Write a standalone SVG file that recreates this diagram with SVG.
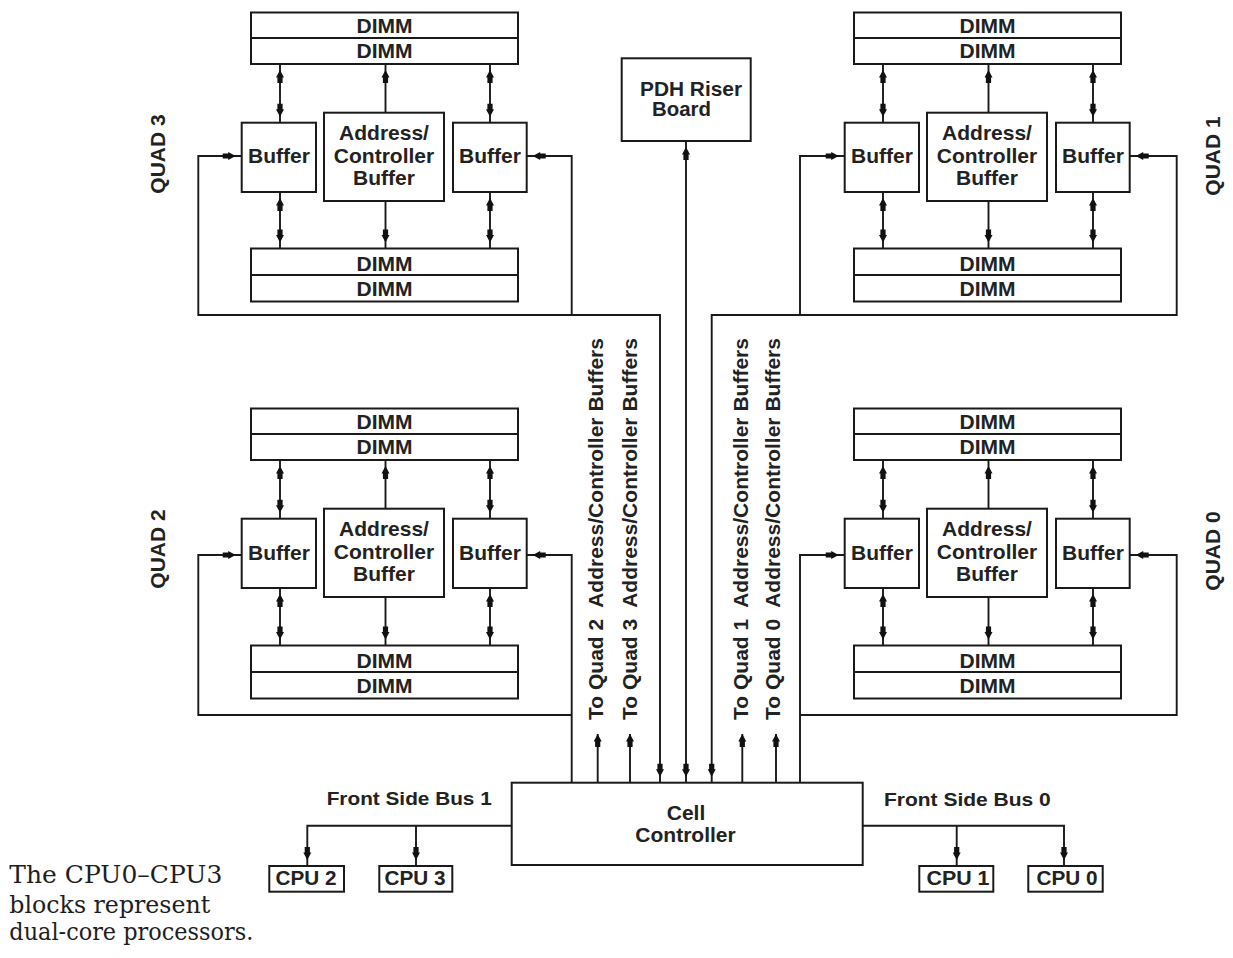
<svg xmlns="http://www.w3.org/2000/svg" width="1233" height="958" viewBox="0 0 1233 958">
<style>
.box{fill:#fff;stroke:#1a1a1a;stroke-width:2}
.dv{stroke:#1a1a1a;stroke-width:2}
.t{font-family:"Liberation Sans",Arial,sans-serif;font-weight:bold;font-size:21px;fill:#222;text-anchor:middle}
.s{text-anchor:start}
.w{fill:none;stroke:#1a1a1a;stroke-width:1.9}
.cap{font-family:"DejaVu Serif","Liberation Serif",serif;font-size:23.5px;fill:#1e1e1e}
</style>
<defs>
<marker id="ah" viewBox="-14 -5 15 10" refX="6" refY="0" markerWidth="15" markerHeight="10" markerUnits="userSpaceOnUse" orient="auto-start-reverse" overflow="visible">
<path d="M0,0 L-7.5,-4 L-7.5,-2.6 L-13,-2.6 L-13,2.6 L-7.5,2.6 L-7.5,4 Z" fill="#111"/>
</marker>
<marker id="ah0" viewBox="-14 -5 15 10" refX="0" refY="0" markerWidth="15" markerHeight="10" markerUnits="userSpaceOnUse" orient="auto-start-reverse" overflow="visible">
<path d="M0,0 L-7.5,-4 L-7.5,-2.6 L-13,-2.6 L-13,2.6 L-7.5,2.6 L-7.5,4 Z" fill="#111"/>
</marker>
</defs>
<rect width="1233" height="958" fill="#fff"/>

<!-- QUAD 3 -->
<g id="quad3">
<text class="t" transform="translate(165,154) rotate(-90)">QUAD 3</text>
<g transform="translate(0,0)">
<g id="q3-dimm-top"><rect class="box" x="251" y="12.5" width="267" height="51.5"/><line class="dv" x1="251" y1="38" x2="518" y2="38"/><text class="t" x="384.5" y="32.5">DIMM</text><text class="t" x="384.5" y="57.5">DIMM</text></g>
<g id="q3-buf-l"><rect class="box" x="241.7" y="122.7" width="74.3" height="69.3"/><text class="t" x="279" y="163">Buffer</text></g>
<g id="q3-addr"><rect class="box" x="324" y="112.7" width="120" height="88.3"/><text class="t" x="384" y="139.5">Address/</text><text class="t" x="384" y="162.5">Controller</text><text class="t" x="384" y="184.5">Buffer</text></g>
<g id="q3-buf-r"><rect class="box" x="453" y="122.7" width="73.7" height="69.3"/><text class="t" x="490" y="163">Buffer</text></g>
<g id="q3-dimm-bot"><rect class="box" x="251" y="248.5" width="267" height="53"/><line class="dv" x1="251" y1="275" x2="518" y2="275"/><text class="t" x="384.5" y="270.5">DIMM</text><text class="t" x="384.5" y="296">DIMM</text></g>
</g>
</g>

<!-- QUAD 1 -->
<g id="quad1">
<text class="t" transform="translate(1220,156) rotate(-90)">QUAD 1</text>
<g transform="translate(603,0)">
<g id="q1-dimm-top"><rect class="box" x="251" y="12.5" width="267" height="51.5"/><line class="dv" x1="251" y1="38" x2="518" y2="38"/><text class="t" x="384.5" y="32.5">DIMM</text><text class="t" x="384.5" y="57.5">DIMM</text></g>
<g id="q1-buf-l"><rect class="box" x="241.7" y="122.7" width="74.3" height="69.3"/><text class="t" x="279" y="163">Buffer</text></g>
<g id="q1-addr"><rect class="box" x="324" y="112.7" width="120" height="88.3"/><text class="t" x="384" y="139.5">Address/</text><text class="t" x="384" y="162.5">Controller</text><text class="t" x="384" y="184.5">Buffer</text></g>
<g id="q1-buf-r"><rect class="box" x="453" y="122.7" width="73.7" height="69.3"/><text class="t" x="490" y="163">Buffer</text></g>
<g id="q1-dimm-bot"><rect class="box" x="251" y="248.5" width="267" height="53"/><line class="dv" x1="251" y1="275" x2="518" y2="275"/><text class="t" x="384.5" y="270.5">DIMM</text><text class="t" x="384.5" y="296">DIMM</text></g>
</g>
</g>

<!-- QUAD 2 -->
<g id="quad2">
<text class="t" transform="translate(165,549) rotate(-90)">QUAD 2</text>
<g transform="translate(0,396)">
<g id="q2-dimm-top"><rect class="box" x="251" y="12.5" width="267" height="51.5"/><line class="dv" x1="251" y1="38" x2="518" y2="38"/><text class="t" x="384.5" y="32.5">DIMM</text><text class="t" x="384.5" y="57.5">DIMM</text></g>
<g id="q2-buf-l"><rect class="box" x="241.7" y="122.7" width="74.3" height="69.3"/><text class="t" x="279" y="164">Buffer</text></g>
<g id="q2-addr"><rect class="box" x="324" y="112.7" width="120" height="88.3"/><text class="t" x="384" y="139.5">Address/</text><text class="t" x="384" y="162.5">Controller</text><text class="t" x="384" y="184.5">Buffer</text></g>
<g id="q2-buf-r"><rect class="box" x="453" y="122.7" width="73.7" height="69.3"/><text class="t" x="490" y="164">Buffer</text></g>
<g id="q2-dimm-bot"><rect class="box" x="251" y="249.5" width="267" height="53"/><line class="dv" x1="251" y1="276" x2="518" y2="276"/><text class="t" x="384.5" y="271.5">DIMM</text><text class="t" x="384.5" y="297">DIMM</text></g>
</g>
</g>

<!-- QUAD 0 -->
<g id="quad0">
<text class="t" transform="translate(1220,551) rotate(-90)">QUAD 0</text>
<g transform="translate(603,396)">
<g id="q0-dimm-top"><rect class="box" x="251" y="12.5" width="267" height="51.5"/><line class="dv" x1="251" y1="38" x2="518" y2="38"/><text class="t" x="384.5" y="32.5">DIMM</text><text class="t" x="384.5" y="57.5">DIMM</text></g>
<g id="q0-buf-l"><rect class="box" x="241.7" y="122.7" width="74.3" height="69.3"/><text class="t" x="279" y="164">Buffer</text></g>
<g id="q0-addr"><rect class="box" x="324" y="112.7" width="120" height="88.3"/><text class="t" x="384" y="139.5">Address/</text><text class="t" x="384" y="162.5">Controller</text><text class="t" x="384" y="184.5">Buffer</text></g>
<g id="q0-buf-r"><rect class="box" x="453" y="122.7" width="73.7" height="69.3"/><text class="t" x="490" y="164">Buffer</text></g>
<g id="q0-dimm-bot"><rect class="box" x="251" y="249.5" width="267" height="53"/><line class="dv" x1="251" y1="276" x2="518" y2="276"/><text class="t" x="384.5" y="271.5">DIMM</text><text class="t" x="384.5" y="297">DIMM</text></g>
</g>
</g>

<!-- PDH Riser Board -->
<g id="pdh">
<rect class="box" x="621.7" y="58.3" width="129" height="82.7"/>
<text class="t s" x="640" y="96" textLength="102" lengthAdjust="spacingAndGlyphs" style="font-size:20px">PDH Riser</text>
<text class="t s" x="652" y="116" style="font-size:20px" textLength="59" lengthAdjust="spacingAndGlyphs">Board</text>
</g>

<!-- Cell Controller -->
<g id="cell-controller">
<rect class="box" x="511.7" y="782.7" width="351" height="82.3"/>
<text class="t" x="686" y="820">Cell</text>
<text class="t" x="685.5" y="841.7">Controller</text>
</g>

<!-- CPUs -->
<g id="cpu2"><rect class="box" x="269.3" y="866" width="74.7" height="25.7"/><text class="t" x="306" y="884.5" style="font-size:19.5px" textLength="61" lengthAdjust="spacingAndGlyphs">CPU 2</text></g>
<g id="cpu3"><rect class="box" x="379.3" y="866" width="73" height="25.7"/><text class="t" x="415" y="884.5" style="font-size:19.5px" textLength="61" lengthAdjust="spacingAndGlyphs">CPU 3</text></g>
<g id="cpu1"><rect class="box" x="919.3" y="866" width="74" height="25.7"/><text class="t" x="958" y="884.5" style="font-size:19.5px" textLength="63" lengthAdjust="spacingAndGlyphs">CPU 1</text></g>
<g id="cpu0"><rect class="box" x="1028.3" y="866" width="74.4" height="25.7"/><text class="t" x="1067" y="884.5" style="font-size:19.5px" textLength="61" lengthAdjust="spacingAndGlyphs">CPU 0</text></g>

<!-- Connectors -->
<g id="connectors" class="w">
<g id="quad-internal-3" transform="translate(0,0)">
<path d="M280,64 V122.7" marker-start="url(#ah)" marker-end="url(#ah)"/>
<path d="M385.5,112.7 V64" marker-end="url(#ah)"/>
<path d="M490,64 V122.7" marker-start="url(#ah)" marker-end="url(#ah)"/>
<path d="M280,192 V248.5" marker-start="url(#ah)" marker-end="url(#ah)"/>
<path d="M385.5,201 V248.5" marker-end="url(#ah)"/>
<path d="M490,192 V248.5" marker-start="url(#ah)" marker-end="url(#ah)"/>
</g>
<g id="quad-internal-1" transform="translate(603,0)">
<path d="M280,64 V122.7" marker-start="url(#ah)" marker-end="url(#ah)"/>
<path d="M385.5,112.7 V64" marker-end="url(#ah)"/>
<path d="M490,64 V122.7" marker-start="url(#ah)" marker-end="url(#ah)"/>
<path d="M280,192 V248.5" marker-start="url(#ah)" marker-end="url(#ah)"/>
<path d="M385.5,201 V248.5" marker-end="url(#ah)"/>
<path d="M490,192 V248.5" marker-start="url(#ah)" marker-end="url(#ah)"/>
</g>
<g id="quad-internal-2" transform="translate(0,396)">
<path d="M280,64 V122.7" marker-start="url(#ah)" marker-end="url(#ah)"/>
<path d="M385.5,112.7 V64" marker-end="url(#ah)"/>
<path d="M490,64 V122.7" marker-start="url(#ah)" marker-end="url(#ah)"/>
<path d="M280,192 V249.5" marker-start="url(#ah)" marker-end="url(#ah)"/>
<path d="M385.5,201 V249.5" marker-end="url(#ah)"/>
<path d="M490,192 V249.5" marker-start="url(#ah)" marker-end="url(#ah)"/>
</g>
<g id="quad-internal-0" transform="translate(603,396)">
<path d="M280,64 V122.7" marker-start="url(#ah)" marker-end="url(#ah)"/>
<path d="M385.5,112.7 V64" marker-end="url(#ah)"/>
<path d="M490,64 V122.7" marker-start="url(#ah)" marker-end="url(#ah)"/>
<path d="M280,192 V249.5" marker-start="url(#ah)" marker-end="url(#ah)"/>
<path d="M385.5,201 V249.5" marker-end="url(#ah)"/>
<path d="M490,192 V249.5" marker-start="url(#ah)" marker-end="url(#ah)"/>
</g>
<!-- quad 3 bus -->
<path d="M241.7,156 H198.3 V315 H660 V782.7" marker-start="url(#ah)" marker-end="url(#ah)"/>
<path d="M526.7,156 H571.7 V315" marker-start="url(#ah)"/>
<!-- quad 2 bus -->
<path d="M241.7,555 H198.3 V715 H571.7" marker-start="url(#ah)"/>
<path d="M526.7,555 H571.7 V782.7" marker-start="url(#ah)"/>
<!-- quad 1 bus -->
<path d="M844.7,156 H800 V315" marker-start="url(#ah)"/>
<path d="M1129.7,156 H1176.7 V315 H711.7 V782.7" marker-start="url(#ah)" marker-end="url(#ah)"/>
<!-- quad 0 bus -->
<path d="M844.7,555 H800 V782.7" marker-start="url(#ah)"/>
<path d="M1129.7,555 H1176.7 V715 H800" marker-start="url(#ah)"/>
<!-- PDH -->
<path d="M686,141 V782.7" marker-start="url(#ah)" marker-end="url(#ah)"/>
<!-- To Quad address/controller lines -->
<path d="M597.7,782.7 V734" marker-end="url(#ah0)"/>
<path d="M630,782.7 V734" marker-end="url(#ah0)"/>
<path d="M742.3,782.7 V734" marker-end="url(#ah0)"/>
<path d="M776,782.7 V734" marker-end="url(#ah0)"/>
<!-- Front side buses -->
<path d="M511.7,825.7 H307.3 V866" marker-end="url(#ah)"/>
<path d="M416,825.7 V866" marker-end="url(#ah)"/>
<path d="M862.7,825.7 H1064 V866" marker-end="url(#ah)"/>
<path d="M956.7,825.7 V866" marker-end="url(#ah)"/>
</g>

<!-- Connector labels -->
<g id="labels">
<text class="t s" xml:space="preserve" transform="translate(603.3,720) rotate(-90)" textLength="382" lengthAdjust="spacingAndGlyphs">To Quad 2  Address/Controller Buffers</text>
<text class="t s" xml:space="preserve" transform="translate(636.7,720) rotate(-90)" textLength="382" lengthAdjust="spacingAndGlyphs">To Quad 3  Address/Controller Buffers</text>
<text class="t s" xml:space="preserve" transform="translate(748.3,720) rotate(-90)" textLength="382" lengthAdjust="spacingAndGlyphs">To Quad 1  Address/Controller Buffers</text>
<text class="t s" xml:space="preserve" transform="translate(780,720) rotate(-90)" textLength="382" lengthAdjust="spacingAndGlyphs">To Quad 0  Address/Controller Buffers</text>
<text class="t s" x="326.7" y="805" style="font-size:19px" textLength="165" lengthAdjust="spacingAndGlyphs">Front Side Bus 1</text>
<text class="t s" x="884" y="805.5" style="font-size:19px" textLength="166.7" lengthAdjust="spacingAndGlyphs">Front Side Bus 0</text>
</g>

<!-- Caption -->
<g id="caption" class="cap">
<text x="9.3" y="883.3" textLength="213" lengthAdjust="spacingAndGlyphs">The CPU0–CPU3</text>
<text x="9.3" y="912.7" textLength="201" lengthAdjust="spacingAndGlyphs">blocks represent</text>
<text x="9.3" y="940" textLength="244" lengthAdjust="spacingAndGlyphs">dual-core processors.</text>
</g>
</svg>
